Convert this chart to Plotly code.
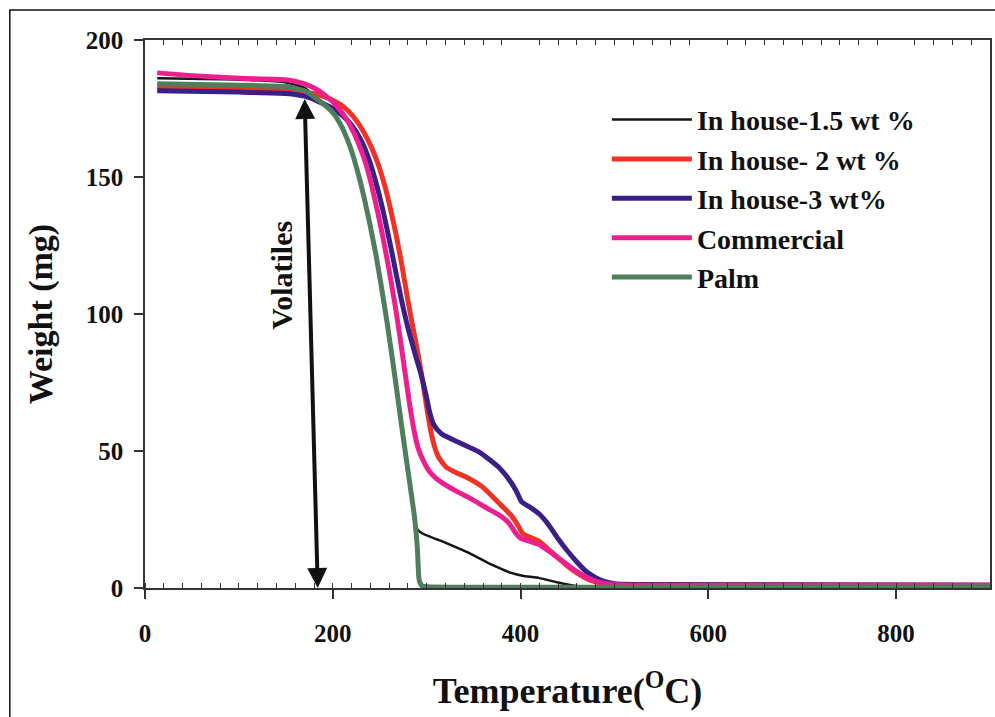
import plotly.graph_objects as go

# Thermogravimetric weight-loss curves (weight vs temperature)
series_names = ["In house-1.5 wt %", "In house- 2 wt %", "In house-3 wt%", "Commercial", "Palm"]

temp_15 = [13, 100, 150, 170, 185, 200, 210, 220, 228, 234, 240, 246, 252, 258, 265, 273, 280,
           284, 287, 290, 295, 321, 345, 370, 390, 402, 420, 440, 460, 480, 900]
weight_15 = [186, 185.5, 184.5, 182.5, 178, 173.5, 168, 159.5, 150, 141.5, 132, 121.5, 109.5, 96.5, 80, 60, 43,
             33, 25, 21.5, 20, 16.4, 12.8, 8.4, 5.5, 4.5, 3.6, 2, 0.7, 0.5, 0.5]

temp_2 = [13, 100, 150, 170, 185, 200, 212, 222, 232, 241, 249, 256, 262, 268, 274, 280, 286, 291,
          296, 300, 304, 308, 313, 321, 332, 342, 359, 377, 390, 397, 402, 410, 420, 430, 440, 450,
          460, 470, 480, 490, 500, 900]
weight_2 = [183, 182.5, 182, 181, 180, 178, 175.5, 172, 167, 161, 154, 146, 137.5, 128, 117, 105, 94, 85,
            75, 66, 58, 52, 47.5, 44, 42, 40.5, 37, 31, 26.5, 23, 20, 18.5, 17, 14, 11, 8,
            5.5, 3.5, 2.2, 1.5, 1.2, 1]

temp_3 = [13, 100, 150, 170, 185, 200, 210, 220, 230, 239, 246, 253, 259, 265, 272, 280, 288, 294,
          299, 303, 307, 312, 317, 335, 356, 377, 390, 396, 401, 410, 420, 430, 440, 450, 460, 470,
          480, 490, 500, 520, 900]
weight_3 = [181.5, 181, 180.5, 179.5, 177.5, 175, 172.5, 169, 163.5, 156, 148, 138.5, 129, 119, 107, 95, 85, 78,
            71, 64.5, 60, 57.5, 56, 53, 49.6, 44, 38.5, 35, 31.5, 29.5, 27, 23, 18, 13.5, 9.5, 6,
            3.8, 2.3, 1.6, 1.3, 1]

temp_com = [13, 50, 100, 150, 170, 185, 200, 212, 222, 230, 236, 242, 248, 254, 260, 266, 271, 276,
            281, 286, 291, 297, 303, 310, 317, 335, 345, 365, 380, 388, 395, 400, 410, 420, 430, 440,
            450, 460, 470, 480, 490, 500, 520, 900]
weight_com = [188, 187, 186, 185.5, 184, 181.5, 177.5, 172.5, 166.5, 160, 154, 146, 137, 127, 116, 104, 93, 81,
              69, 58.5, 51, 46, 42.5, 40, 38.3, 34.7, 33, 29, 26, 23.5, 20, 18.2, 17, 15.8, 13.5, 11,
              8.5, 6, 4, 2.5, 1.7, 1.3, 1, 1]

temp_palm = [13, 100, 150, 170, 185, 200, 210, 220, 228, 234, 240, 246, 252, 258, 265, 273, 280, 287,
             290, 292, 295, 300, 900]
weight_palm = [184, 183.5, 183, 181.5, 178, 173.5, 168, 159.5, 150, 141.5, 132, 121.5, 109.5, 96.5, 80, 60, 43, 26,
               15, 3, 0.8, 0.5, 0.5]

series_x = [temp_15, temp_2, temp_3, temp_com, temp_palm]
series_y = [weight_15, weight_2, weight_3, weight_com, weight_palm]
colors = ["#141414", "#EE3326", "#3A1F86", "#EC1F8E", "#4F7E5C"]
widths = [2.5, 5, 5, 5, 5]

# Volatiles arrow end points (temperature, weight)
arrow_top = (170, 179)
arrow_bottom = (184, 0)

FONT = "Liberation Serif"

fig = go.Figure()
for name, xs, ys, c, w in zip(series_names, series_x, series_y, colors, widths):
    fig.add_trace(go.Scatter(x=xs, y=ys, mode="lines", name=name,
                             line=dict(color=c, width=w, shape="spline", smoothing=0.5)))

# helper trace for the top axis carrying only minor ticks
fig.add_trace(go.Scatter(x=[None], y=[None], xaxis="x2", showlegend=False, hoverinfo="skip"))

axis_col = "#333333"
fig.update_layout(
    width=995, height=717,
    margin=dict(l=145, r=3, t=40, b=129),
    paper_bgcolor="white", plot_bgcolor="white",
    font=dict(family=FONT, color="#111111"),
    showlegend=True,
    legend=dict(x=0.5466, y=0.9, xanchor="left", yanchor="top",
                font=dict(family=FONT, size=28, weight="bold", color="#111111"),
                bgcolor="rgba(0,0,0,0)", itemwidth=80, tracegroupgap=0),
    xaxis=dict(range=[0, 900], dtick=200, tick0=0, showgrid=False, zeroline=False,
               showline=True, linecolor=axis_col, linewidth=1.5, mirror=True,
               ticks="outside", ticklen=9, tickwidth=1.5, tickcolor=axis_col,
               minor=dict(ticks="inside", dtick=20, ticklen=5, tickwidth=1, tickcolor=axis_col, showgrid=False),
               tickfont=dict(family=FONT, size=25, weight="bold"),
               ticklabelstandoff=13,
               title=dict(text="Temperature(<sup>O</sup>C)", standoff=32,
                          font=dict(family=FONT, size=36, weight="bold"))),
    xaxis2=dict(range=[0, 900], overlaying="x", side="top", showgrid=False, zeroline=False,
                showline=False, showticklabels=False, ticks="", tick0=0, dtick=200,
                minor=dict(ticks="inside", dtick=20, ticklen=5, tickwidth=1, tickcolor=axis_col, showgrid=False)),
    yaxis=dict(range=[0, 200], dtick=50, showgrid=False, zeroline=False,
               showline=True, linecolor=axis_col, linewidth=1.5, mirror=True,
               ticks="outside", ticklen=9, tickwidth=1.5, tickcolor=axis_col,
               tickfont=dict(family=FONT, size=25, weight="bold"),
               ticklabelstandoff=6,
               title=dict(text="Weight (mg)", standoff=23,
                          font=dict(family=FONT, size=34, weight="bold"))),
)

# double-headed arrow marking the volatile fraction
fig.add_annotation(x=arrow_bottom[0], y=arrow_bottom[1], ax=arrow_top[0], ay=arrow_top[1],
                   xref="x", yref="y", axref="x", ayref="y", text="",
                   showarrow=True, arrowhead=2, startarrowhead=2, arrowside="end+start",
                   arrowsize=1, startarrowsize=1, arrowwidth=4, arrowcolor="#111111")
fig.add_annotation(x=146, y=114, xref="x", yref="y", text="Volatiles", showarrow=False,
                   textangle=-90, font=dict(family=FONT, size=30, weight="bold", color="#111111"))

# outer frame of the figure
fig.add_shape(type="rect", xref="paper", yref="paper", x0=-0.16, x1=1.1, y0=-0.4, y1=1.0547,
              line=dict(color="#111111", width=1.5), fillcolor="rgba(0,0,0,0)", layer="below")

fig.write_html("out.html")
